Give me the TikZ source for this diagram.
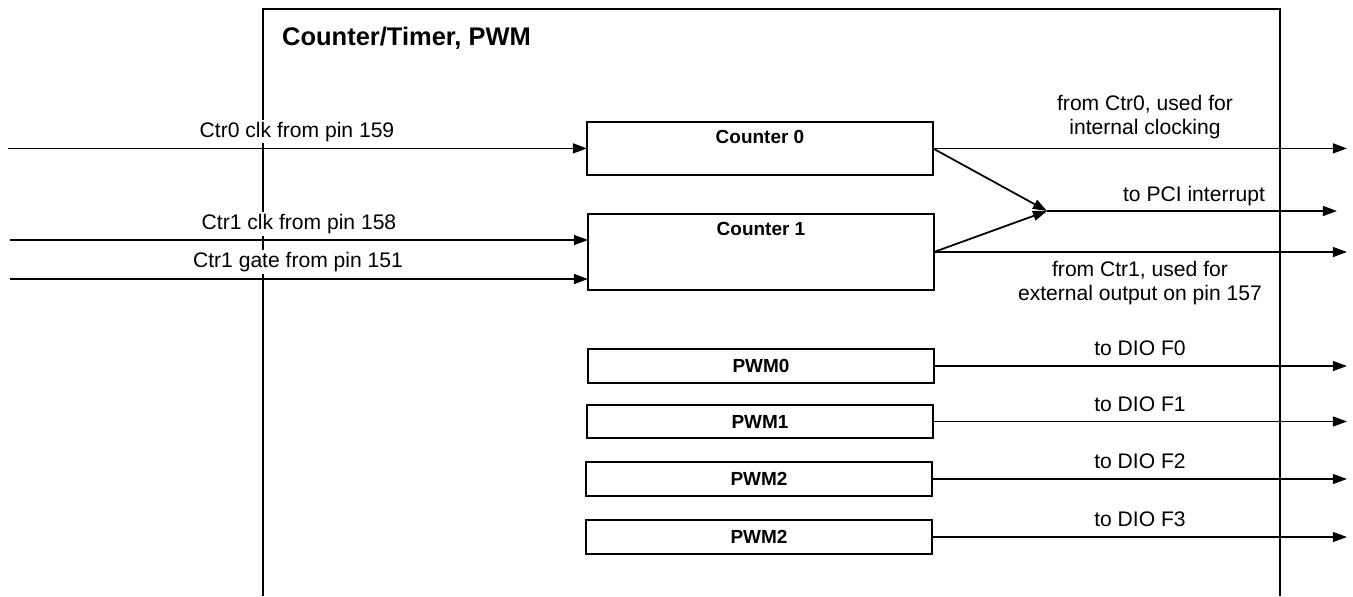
\documentclass[tikz,border=0pt]{standalone}
\usepackage{fontspec}
\setmainfont{Liberation Sans}
\usetikzlibrary{arrows.meta, positioning}

\begin{document}
\begin{tikzpicture}[x=0.02cm, y=-0.02cm,
    blk/.style={draw, line width=1pt, inner sep=0pt, outer sep=0pt, minimum width=6.92cm},
    pwm/.style={blk, minimum height=0.67cm, font=\fontsize{10.8}{12}\bfseries\selectfont},
    blkname/.style={font=\fontsize{10.8}{12}\bfseries\selectfont, anchor=base},
    txt/.style={font=\fontsize{12}{14}\selectfont, anchor=base, fill=white, inner sep=1pt},
    sig/.style={-{Triangle[length=8pt, width=5.6pt]}, line width=1pt}]

      \useasboundingbox (0,0) rectangle (1353,596);

      % frame of the block
      \draw[line width=1.3pt] (263,596) |- (1280,9) -- (1280,596);
      \node[font=\fontsize{14.5}{16}\bfseries\selectfont, anchor=base west] (title) at (276,45) {Counter/Timer, PWM};

      % counters
      \node[blk, minimum height=1.06cm] (c0) at (760,148.4) {};
      \node[blk, minimum height=1.53cm] (c1) at (761,252) {};
      \node[blkname] (c0name) at (760,143.5) {Counter 0};
      \node[blkname] (c1name) at (761,235) {Counter 1};

      % pwm blocks
      \node[pwm] (p0) at (761,366) {PWM0};
      \node[pwm] (p1) at (760,421.5) {PWM1};
      \node[pwm] (p2) at (759,479) {PWM2};
      \node[pwm] (p3) at (759,537) {PWM2};

      % inputs
      \coordinate (in0) at (8,148.4);
      \coordinate (in1) at (10,240);
      \coordinate (in2) at (10,279);
      \draw[sig] (in0) -- (in0 -| c0.west);
      \draw[sig] (in1) -- (in1 -| c1.west);
      \draw[sig] (in2) -- (in2 -| c1.west);
      \node[txt] (l0) at (297,137) {Ctr0 clk from pin 159};
      \node[txt] (l1) at (299,229.5) {Ctr1 clk from pin 158};
      \node[txt] (l2) at (298,267.5) {Ctr1 gate from pin 151};

      % counter outputs
      \coordinate (merge) at (1047,211);
      \coordinate (out0) at (1347,148.4);
      \coordinate (pci) at (1337,211);
      \coordinate (out1) at (1347,252);
      \draw[sig] (c0.east) -- (out0);
      \draw[sig] (c0.east) -- (merge);
      \draw[sig] (c1.east) -- (merge);
      \draw[sig] (merge) -- (pci);
      \draw[sig] (c1.east) -- (out1);
      \node[txt] (r0a) at (1145,110) {from Ctr0, used for};
      \node[txt] (r0b) at (1145,134.5) {internal clocking};
      \node[txt] (r1) at (1194,201) {to PCI interrupt};
      \node[txt] (r2a) at (1140,276) {from Ctr1, used for};
      \node[txt] (r2b) at (1140,300) {external output on pin 157};

      % pwm outputs
      \coordinate (d0) at (1347,366);
      \coordinate (d1) at (1347,421.5);
      \coordinate (d2) at (1347,479);
      \coordinate (d3) at (1347,537);
      \draw[sig] (p0.east) -- (d0);
      \draw[sig] (p1.east) -- (d1);
      \draw[sig] (p2.east) -- (d2);
      \draw[sig] (p3.east) -- (d3);
      \node[txt] (t0) at (1140,355.5) {to DIO F0};
      \node[txt] (t1) at (1140,411) {to DIO F1};
      \node[txt] (t2) at (1140,468.5) {to DIO F2};
      \node[txt] (t3) at (1140,526) {to DIO F3};
    \end{tikzpicture}
\end{document}
